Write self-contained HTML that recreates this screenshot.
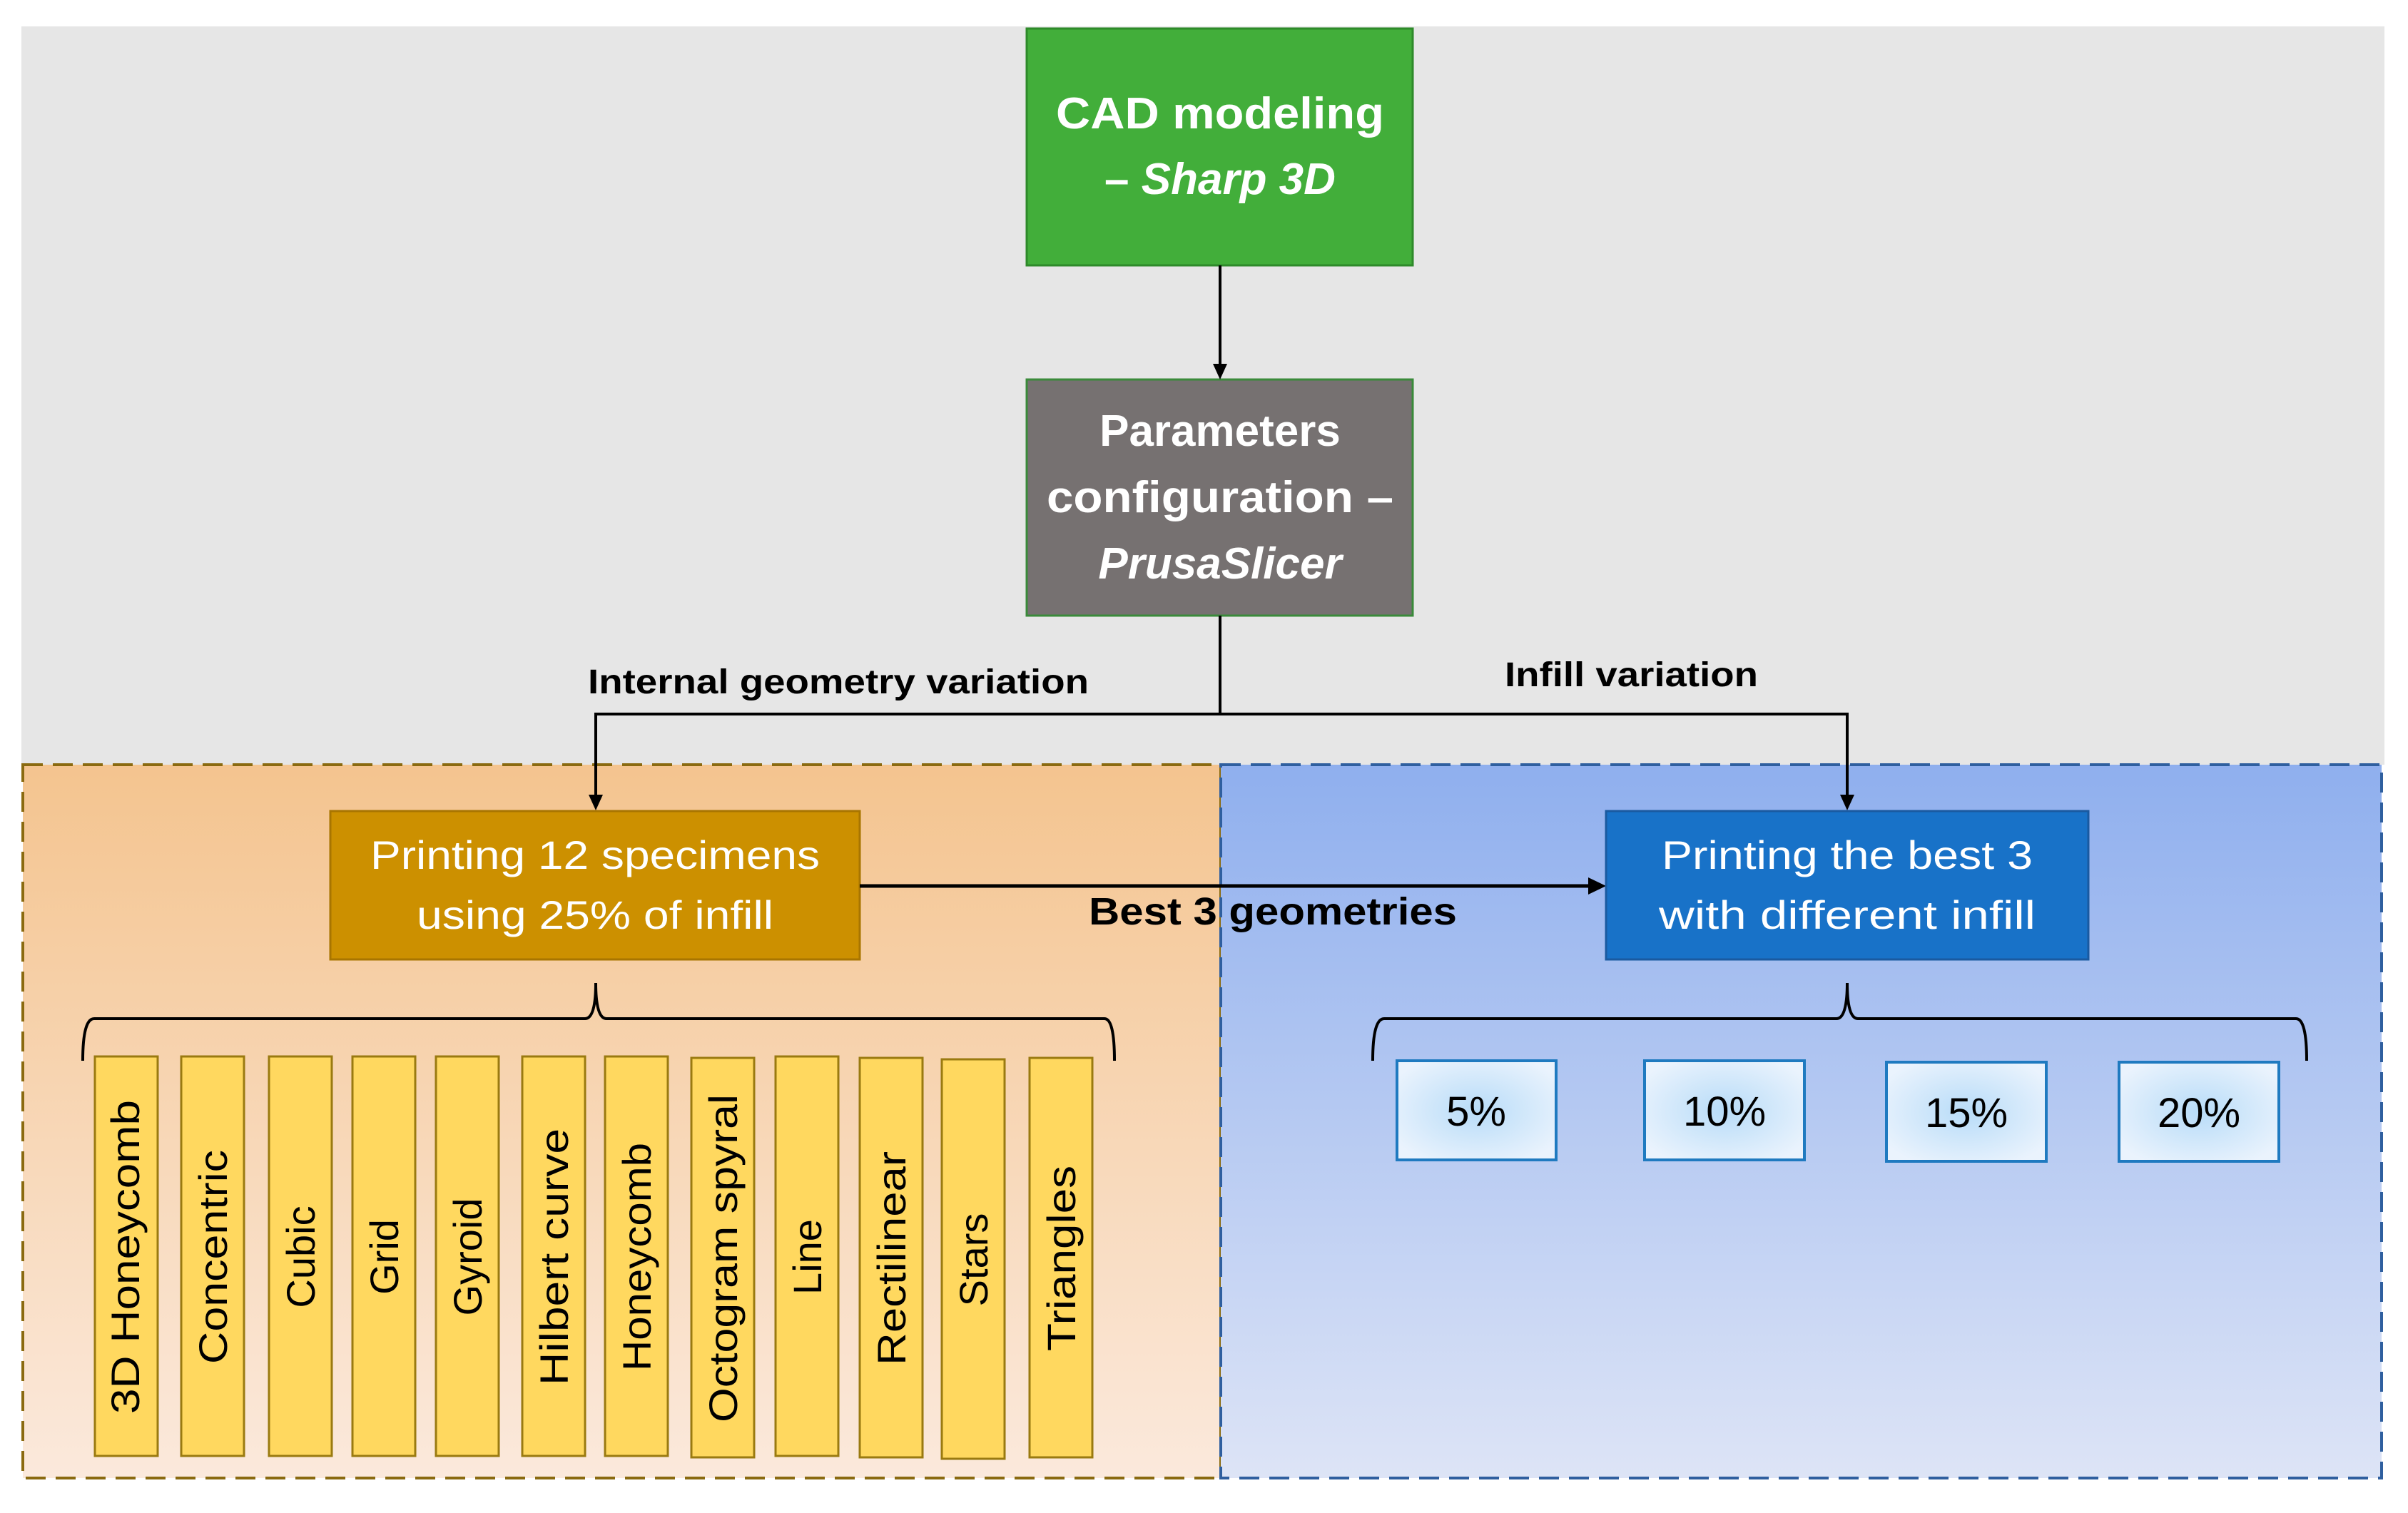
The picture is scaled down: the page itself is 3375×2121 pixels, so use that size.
<!DOCTYPE html>
<html><head><meta charset="utf-8"><style>
html,body{margin:0;padding:0;background:#fff;}
svg{display:block;}
text{font-family:"Liberation Sans",sans-serif;}
</style></head><body>
<svg width="3375" height="2121" viewBox="0 0 3375 2121" xmlns="http://www.w3.org/2000/svg">
<defs>
<linearGradient id="og" x1="0" y1="0" x2="0" y2="1"><stop offset="0" stop-color="#f4c48f"/><stop offset="1" stop-color="#fbe9dc"/></linearGradient>
<linearGradient id="bg" x1="0" y1="0" x2="0" y2="1"><stop offset="0" stop-color="#8fafee"/><stop offset="1" stop-color="#dde4f6"/></linearGradient>
<radialGradient id="pg" cx="0.5" cy="0.5" r="0.6"><stop offset="0" stop-color="#b8dcf8"/><stop offset="1" stop-color="#eaf3fd"/></radialGradient>
</defs>
<rect x="30" y="37" width="3312" height="1035" fill="#e6e6e6"/>
<rect x="32" y="1072" width="1679" height="1000" fill="url(#og)" stroke="#8a6a10" stroke-width="4" stroke-dasharray="28,14"/>
<rect x="1711" y="1072" width="1627" height="1000" fill="url(#bg)" stroke="#2f5f9f" stroke-width="4" stroke-dasharray="28,14"/>

<rect x="1439" y="40" width="541" height="332" fill="#42ae3a" stroke="#2e8a2a" stroke-width="3"/>
<text x="1710" y="180" font-size="62" font-weight="bold" fill="#fff" text-anchor="middle" textLength="460" lengthAdjust="spacingAndGlyphs">CAD modeling</text>
<text x="1710" y="272" font-size="62" font-weight="bold" fill="#fff" text-anchor="middle">– <tspan font-style="italic">Sharp 3D</tspan></text>

<rect x="1439" y="532" width="541" height="331" fill="#767171" stroke="#3a8a3a" stroke-width="3"/>
<text x="1710" y="625" font-size="62" font-weight="bold" fill="#fff" text-anchor="middle">Parameters</text>
<text x="1710" y="718" font-size="62" font-weight="bold" fill="#fff" text-anchor="middle" textLength="486" lengthAdjust="spacingAndGlyphs">configuration –</text>
<text x="1710" y="811" font-size="62" font-weight="bold" font-style="italic" fill="#fff" text-anchor="middle">PrusaSlicer</text>

<line x1="1710" y1="372" x2="1710" y2="515" stroke="#000" stroke-width="4"/>
<path d="M1700,510 L1710,532 L1720,510 z" fill="#000"/>
<polyline points="1710,863 1710,1001" fill="none" stroke="#000" stroke-width="4"/>
<polyline points="835,1120 835,1001 2589,1001 2589,1120" fill="none" stroke="#000" stroke-width="4"/>
<path d="M825,1114 L835,1136 L845,1114 z" fill="#000"/>
<path d="M2579,1114 L2589,1136 L2599,1114 z" fill="#000"/>
<text x="824" y="972" font-size="48" font-weight="bold" fill="#000" textLength="702" lengthAdjust="spacingAndGlyphs">Internal geometry variation</text>
<text x="2109" y="962" font-size="48" font-weight="bold" fill="#000" textLength="355" lengthAdjust="spacingAndGlyphs">Infill variation</text>

<rect x="463" y="1137" width="742" height="208" fill="#cc9000" stroke="#a87500" stroke-width="3"/>
<text x="834" y="1218" font-size="56" fill="#fff" text-anchor="middle" textLength="630" lengthAdjust="spacingAndGlyphs">Printing 12 specimens</text>
<text x="834" y="1302" font-size="56" fill="#fff" text-anchor="middle" textLength="500" lengthAdjust="spacingAndGlyphs">using 25% of infill</text>

<line x1="1205" y1="1242" x2="2230" y2="1242" stroke="#000" stroke-width="5"/>
<path d="M2226,1230 L2251,1242 L2226,1254 z" fill="#000"/>
<text x="1526" y="1296" font-size="54" font-weight="bold" fill="#000" textLength="516" lengthAdjust="spacingAndGlyphs">Best 3 geometries</text>

<rect x="2251" y="1137" width="676" height="208" fill="#1872c8" stroke="#1a5aa0" stroke-width="3"/>
<text x="2589" y="1218" font-size="56" fill="#fff" text-anchor="middle" textLength="520" lengthAdjust="spacingAndGlyphs">Printing the best 3</text>
<text x="2589" y="1302" font-size="56" fill="#fff" text-anchor="middle" textLength="528" lengthAdjust="spacingAndGlyphs">with different infill</text>

<path d="M116,1487 Q116,1428 132,1428 L820,1428 Q835,1428 835,1378 Q835,1428 850,1428 L1548,1428 Q1562,1428 1562,1487" fill="none" stroke="#000" stroke-width="4"/>
<path d="M1924,1487 Q1924,1428 1940,1428 L2574,1428 Q2589,1428 2589,1378 Q2589,1428 2604,1428 L3218,1428 Q3233,1428 3233,1487" fill="none" stroke="#000" stroke-width="4"/>

<g fill="#ffd85f" stroke="#9a7a10" stroke-width="3">
<rect x="133" y="1481" width="88" height="560"/>
<rect x="254" y="1481" width="88" height="560"/>
<rect x="377" y="1481" width="88" height="560"/>
<rect x="494" y="1481" width="88" height="560"/>
<rect x="611" y="1481" width="88" height="560"/>
<rect x="732" y="1481" width="88" height="560"/>
<rect x="848" y="1481" width="88" height="560"/>
<rect x="969" y="1483" width="88" height="560"/>
<rect x="1087" y="1481" width="88" height="560"/>
<rect x="1205" y="1483" width="88" height="560"/>
<rect x="1320" y="1485" width="88" height="560"/>
<rect x="1443" y="1483" width="88" height="560"/>
</g>
<g font-size="56" fill="#000" text-anchor="middle">
<text transform="translate(195,1762) rotate(-90)" textLength="440" lengthAdjust="spacingAndGlyphs">3D Honeycomb</text>
<text transform="translate(318,1762) rotate(-90)" textLength="300" lengthAdjust="spacingAndGlyphs">Concentric</text>
<text transform="translate(441,1762) rotate(-90)">Cubic</text>
<text transform="translate(558,1762) rotate(-90)">Grid</text>
<text transform="translate(675,1762) rotate(-90)">Gyroid</text>
<text transform="translate(796,1762) rotate(-90)" textLength="360" lengthAdjust="spacingAndGlyphs">Hilbert curve</text>
<text transform="translate(912,1762) rotate(-90)" textLength="320" lengthAdjust="spacingAndGlyphs">Honeycomb</text>
<text transform="translate(1033,1764) rotate(-90)" textLength="460" lengthAdjust="spacingAndGlyphs">Octogram spyral</text>
<text transform="translate(1151,1762) rotate(-90)">Line</text>
<text transform="translate(1269,1764) rotate(-90)" textLength="300" lengthAdjust="spacingAndGlyphs">Rectilinear</text>
<text transform="translate(1384,1766) rotate(-90)">Stars</text>
<text transform="translate(1507,1764) rotate(-90)" textLength="260" lengthAdjust="spacingAndGlyphs">Triangles</text>
</g>

<g fill="url(#pg)" stroke="#1f7ac0" stroke-width="4">
<rect x="1958" y="1487" width="223" height="139"/>
<rect x="2305" y="1487" width="224" height="139"/>
<rect x="2644" y="1489" width="224" height="139"/>
<rect x="2970" y="1489" width="224" height="139"/>
</g>
<g font-size="58" fill="#000" text-anchor="middle">
<text x="2069" y="1578">5%</text>
<text x="2417" y="1578">10%</text>
<text x="2756" y="1580">15%</text>
<text x="3082" y="1580">20%</text>
</g>
</svg>
</body></html>
